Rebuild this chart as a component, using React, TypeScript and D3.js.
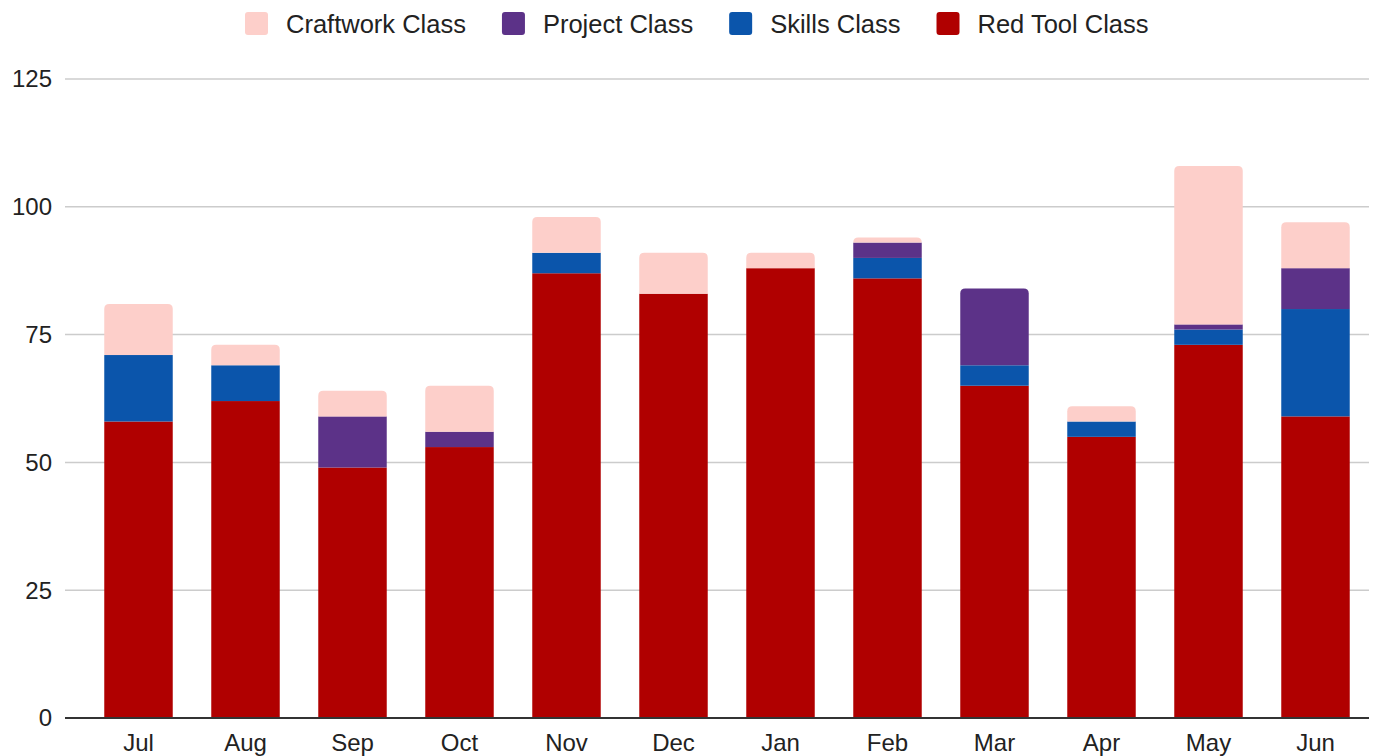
import React, { useEffect } from "react";
import { scaleBand, scaleLinear, stack } from "d3";

const months = ["Jul", "Aug", "Sep", "Oct", "Nov", "Dec", "Jan", "Feb", "Mar", "Apr", "May", "Jun"];
const redTool = [58, 62, 49, 53, 87, 83, 88, 86, 65, 55, 73, 59];
const skills = [13, 7, 0, 0, 4, 0, 0, 4, 4, 3, 3, 21];
const project = [0, 0, 10, 3, 0, 0, 0, 3, 15, 0, 1, 8];
const craftwork = [10, 4, 5, 9, 7, 8, 3, 1, 0, 3, 31, 9];
const yTicks = [0, 25, 50, 75, 100, 125];

const seriesKeys = ["red", "skills", "project", "craft"] as const;
const seriesNames: Record<string, string> = {
  craft: "Craftwork Class",
  project: "Project Class",
  skills: "Skills Class",
  red: "Red Tool Class",
};
const colors: Record<string, string> = {
  craft: "#fdcfca",
  project: "#5c3288",
  skills: "#0b55ab",
  red: "#b00000",
};
const legendOrder = ["craft", "project", "skills", "red"];

const font = "'Liberation Sans', Arial, sans-serif";

function measure(text: string, size: number) {
  const canvas = document.createElement("canvas");
  const ctx = canvas.getContext("2d");
  if (!ctx) return text.length * size * 0.5;
  ctx.font = `${size}px ${font}`;
  return ctx.measureText(text).width;
}

// rect with rounded top corners only
function topRounded(x: number, y: number, w: number, h: number, r: number) {
  const rr = Math.min(r, h, w / 2);
  return `M${x},${y + h}V${y + rr}Q${x},${y} ${x + rr},${y}H${x + w - rr}Q${x + w},${y} ${x + w},${y + rr}V${y + h}Z`;
}

export default function App() {
  useEffect(() => {
    document.body.style.margin = "0";
  }, []);

  const width = 1375;
  const height = 756;
  const margin = { top: 79, right: 6, bottom: 38, left: 65 };

  const rows = months.map((m, i) => ({
    month: m,
    red: redTool[i],
    skills: skills[i],
    project: project[i],
    craft: craftwork[i],
  }));

  const x = scaleBand<string>()
    .domain(months)
    .range([85, 1369])
    .paddingInner(0.36)
    .paddingOuter(0.18);

  const y = scaleLinear()
    .domain([0, 125])
    .range([height - margin.bottom, margin.top]);

  const stacked = stack<any>().keys(seriesKeys as any)(rows);

  // find topmost nonzero segment per month
  const topKey = rows.map((r) => {
    let k = "";
    seriesKeys.forEach((s) => {
      if ((r as any)[s] > 0) k = s;
    });
    return k;
  });

  const legendSize = 25.5;
  const legendItems = legendOrder.map((k) => ({
    key: k,
    label: seriesNames[k],
    w: 23 + 18 + measure(seriesNames[k], legendSize),
  }));
  const legendGap = 36;
  const legendTotal =
    legendItems.reduce((a, b) => a + b.w, 0) + legendGap * (legendItems.length - 1);
  let lx = 697 - legendTotal / 2;
  const legendPos = legendItems.map((it) => {
    const p = lx;
    lx += it.w + legendGap;
    return { ...it, x: p };
  });

  return (
    <svg width={width} height={height} style={{ display: "block", fontFamily: font }}>
      <rect width={width} height={height} fill="#fff" />
      <g>
        {yTicks.map((t) => (
          <g key={t}>
            {t !== 0 && (
              <line
                x1={margin.left}
                x2={width - margin.right}
                y1={y(t)}
                y2={y(t)}
                stroke="#cccccc"
                strokeWidth={1.5}
              />
            )}
            <text
              x={52}
              y={y(t)}
              dy="0.35em"
              textAnchor="end"
              fontSize={24}
              fill="#222"
            >
              {t}
            </text>
          </g>
        ))}
      </g>
      {stacked.map((layer) => (
        <g key={layer.key} fill={colors[layer.key]}>
          {layer.map((d, i) => {
            const h = y(d[0]) - y(d[1]);
            if (h <= 0) return null;
            const bx = x(months[i]) ?? 0;
            const bw = x.bandwidth();
            if (topKey[i] === layer.key) {
              return <path key={i} d={topRounded(bx, y(d[1]), bw, h, 5)} />;
            }
            return <rect key={i} x={bx} y={y(d[1])} width={bw} height={h} />;
          })}
        </g>
      ))}
      <line
        x1={margin.left}
        x2={width - margin.right}
        y1={y(0)}
        y2={y(0)}
        stroke="#333"
        strokeWidth={2}
      />
      {months.map((m) => (
        <text
          key={m}
          x={(x(m) ?? 0) + x.bandwidth() / 2}
          y={751}
          textAnchor="middle"
          fontSize={24}
          fill="#222"
        >
          {m}
        </text>
      ))}
      <g>
        {legendPos.map((it) => (
          <g key={it.key}>
            <rect x={it.x} y={12} width={23} height={23} rx={3} fill={colors[it.key]} />
            <text x={it.x + 41} y={24} dy="0.35em" fontSize={legendSize} fill="#222">
              {it.label}
            </text>
          </g>
        ))}
      </g>
    </svg>
  );
}
